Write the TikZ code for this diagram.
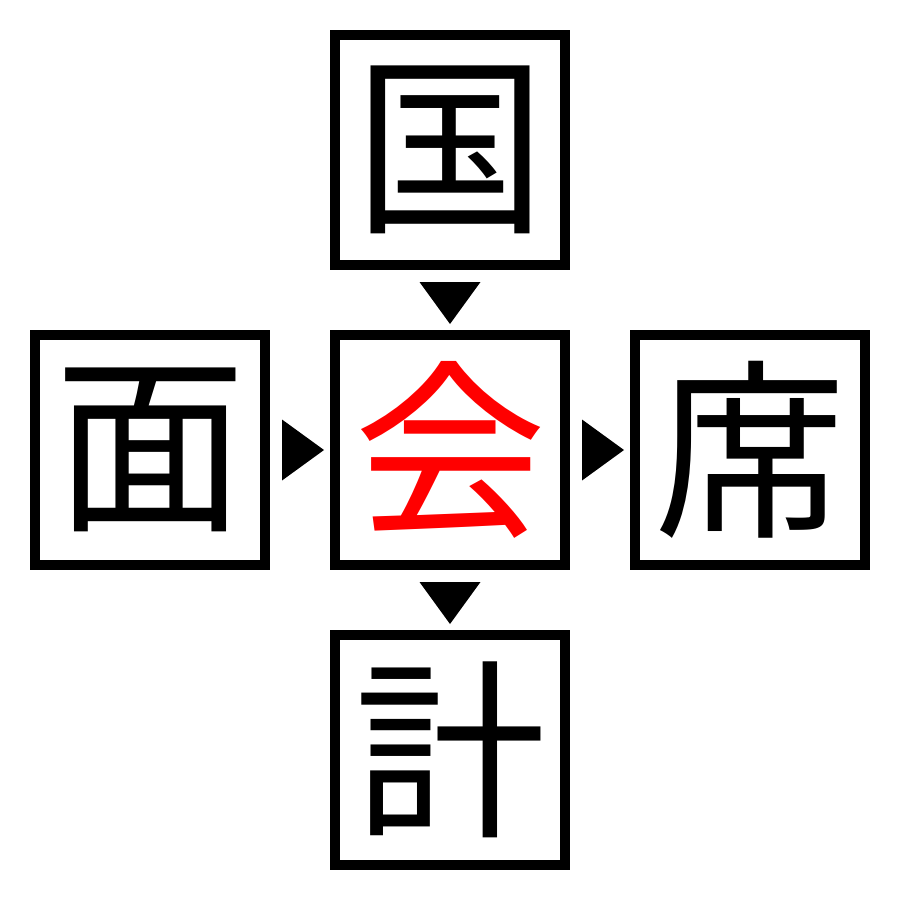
\documentclass[tikz,border=0pt]{standalone}
\usepackage{fontspec}
\newfontfamily\cjk{Noto Sans CJK JP}
\usetikzlibrary{calc}
\tikzset{
  kbox/.style={draw=black, line width=10pt, minimum size=230pt, inner sep=0pt, outer sep=0pt,
    font=\cjk\fontsize{192}{192}\selectfont},
  tri/.style={fill=black}
}
\begin{document}
\begin{tikzpicture}[x=1pt,y=-1pt]
\useasboundingbox[fill=white] (0,0) rectangle (900,900);
\node[kbox] (t) at (450,150) {\raisebox{-5pt}{国}};
\node[kbox, text=red] (c) at (450,450) {\raisebox{-5pt}{会}};
\node[kbox] (l) at (150,450) {\raisebox{-5pt}{面}};
\node[kbox] (r) at (750,450) {\raisebox{-5pt}{席}};
\node[kbox] (b) at (450,750) {\raisebox{-5pt}{計}};
% top -> center
\fill[tri] ($(t.south)+(-30.5,17)$) -- ($(t.south)+(30.5,17)$) -- ($(c.north)+(0,-11)$) -- cycle;
% center -> bottom
\fill[tri] ($(c.south)+(-30.5,17)$) -- ($(c.south)+(30.5,17)$) -- ($(b.north)+(0,-11)$) -- cycle;
% left -> center
\fill[tri] ($(l.east)+(17,-30.5)$) -- ($(l.east)+(17,30.5)$) -- ($(c.west)+(-11,0)$) -- cycle;
% center -> right
\fill[tri] ($(c.east)+(17,-30.5)$) -- ($(c.east)+(17,30.5)$) -- ($(r.west)+(-11,0)$) -- cycle;
\end{tikzpicture}
\end{document}
